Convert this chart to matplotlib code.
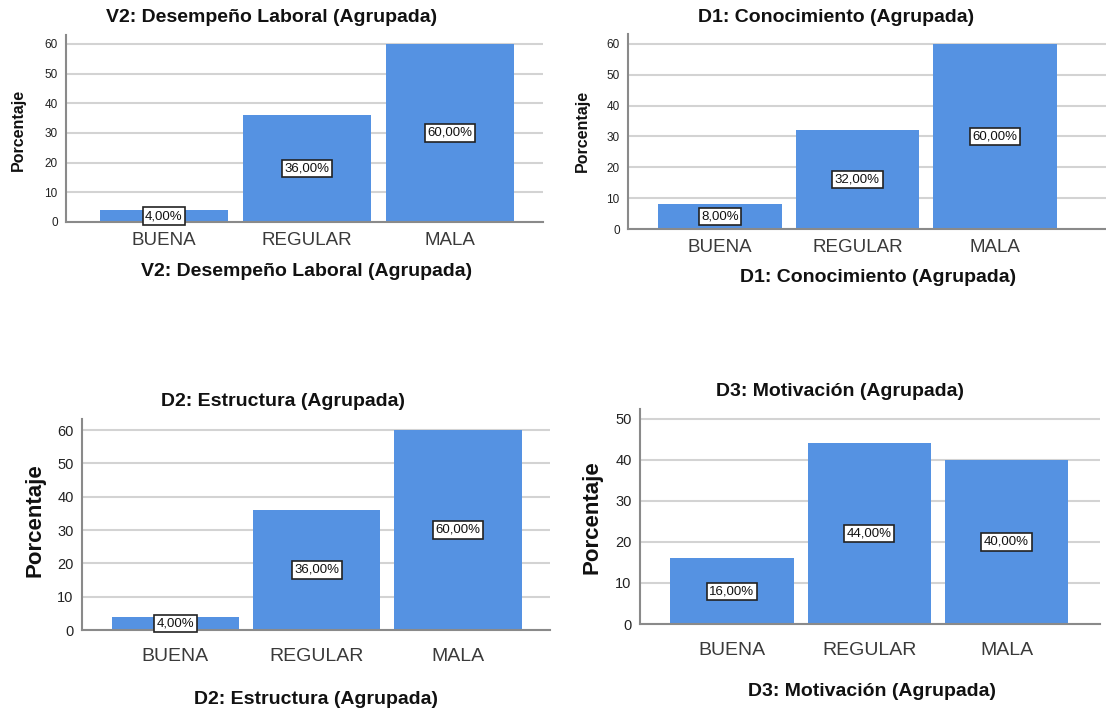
import numpy as np
import matplotlib

matplotlib.use("Agg")
import matplotlib.pyplot as plt

CATEGORIAS = ["BUENA", "REGULAR", "MALA"]
V2_DESEMPENO = [4, 36, 60]
D1_CONOCIMIENTO = [8, 32, 60]
D2_ESTRUCTURA = [4, 36, 60]
D3_MOTIVACION = [16, 44, 40]
TITULOS = ["V2: Desempeño Laboral (Agrupada)", "D1: Conocimiento (Agrupada)",
           "D2: Estructura (Agrupada)", "D3: Motivación (Agrupada)"]
YTICKS = [np.arange(0, 61, 10), np.arange(0, 61, 10),
          np.arange(0, 61, 10), np.arange(0, 51, 10)]

W, H = 1106, 713
AZUL = "#5592e2"
FUENTE = ["Liberation Sans", "DejaVu Sans"]


def px(x, y):
    return x / W, 1 - y / H


def caja(x0, x1, y0, y1):
    # rectángulo del eje en píxeles -> fracción de figura
    return [x0 / W, 1 - y1 / H, (x1 - x0) / W, (y1 - y0) / H]


# un panel = valores + geometría y tamaños de letra propios del panel
PANELES = [
    dict(vals=V2_DESEMPENO, rect=caja(66, 543, 35, 222), xlim=(-0.685, 2.65), ytop=63,
         tit=(272, 18), xl=(307, 272), yl=(18, 130), ftit=14, fxt=13.5,
         fyt=8.5, fyl=11.5, fbox=9.5, pad=7),
    dict(vals=D1_CONOCIMIENTO, rect=caja(628, 1106, 34, 229), xlim=(-0.67, 2.81),
         ytop=63.2, tit=(836, 18), xl=(878, 277), yl=(582, 131), ftit=14,
         fxt=13.5, fyt=8.5, fyl=11.5, fbox=9.5, pad=7),
    dict(vals=D2_ESTRUCTURA, rect=caja(82, 550, 419, 630), xlim=(-0.66, 2.65), ytop=63.3,
         tit=(283, 401), xl=(316, 700), yl=(35, 520), ftit=14, fxt=14,
         fyt=10.5, fyl=16, fbox=9.5, pad=13),
    dict(vals=D3_MOTIVACION, rect=caja(640, 1100, 409, 624), xlim=(-0.67, 2.68),
         ytop=52.4, tit=(840, 392), xl=(872, 692), yl=(592, 517), ftit=14,
         fxt=14, fyt=10.5, fyl=16, fbox=9.5, pad=13),
]

fig = plt.figure(figsize=(W / 100, H / 100), dpi=100)
fig.patch.set_facecolor("white")

for i, p in enumerate(PANELES):
    ax = fig.add_axes(p["rect"])
    x = np.arange(len(CATEGORIAS))
    ax.set_axisbelow(True)
    ax.bar(x, p["vals"], width=0.9, color=AZUL, zorder=2)
    for xi, v in zip(x, p["vals"]):
        ax.text(xi, v / 2, f"{v:.2f}%".replace(".", ","), ha="center", va="center",
                fontsize=p["fbox"], family=FUENTE, color="#111111", zorder=3,
                bbox=dict(boxstyle="square,pad=0.2", fc="white", ec="#222222", lw=1.2))
    ax.set_xlim(*p["xlim"])
    ax.set_ylim(0, p["ytop"])
    ax.set_yticks(YTICKS[i])
    ax.yaxis.grid(True, color="#d3d3d3", lw=1.5)
    ax.set_xticks(x, CATEGORIAS)
    ax.tick_params(axis="y", length=0, pad=6)
    ax.tick_params(axis="x", length=0, pad=p["pad"])
    for t in ax.get_xticklabels():
        t.set_fontsize(p["fxt"])
        t.set_family(FUENTE)
        t.set_color("#3a3a3a")
    for t in ax.get_yticklabels():
        t.set_fontsize(p["fyt"])
        t.set_family(FUENTE)
        t.set_color("#222222")
    for s in ("top", "right"):
        ax.spines[s].set_visible(False)
    for s in ("left", "bottom"):
        ax.spines[s].set_color("#8a8a8a")
        ax.spines[s].set_linewidth(1.5)

    fig.text(*px(*p["tit"]), TITULOS[i], ha="center", va="center", fontsize=p["ftit"],
             fontweight="bold", family=FUENTE, color="#111111")
    fig.text(*px(*p["xl"]), TITULOS[i], ha="center", va="center", fontsize=p["ftit"],
             fontweight="bold", family=FUENTE, color="#111111")
    fig.text(*px(*p["yl"]), "Porcentaje", ha="center", va="center", rotation=90,
             fontsize=p["fyl"], fontweight="bold", family=FUENTE, color="#111111")

fig.savefig("out.png", dpi=100, facecolor="white")
